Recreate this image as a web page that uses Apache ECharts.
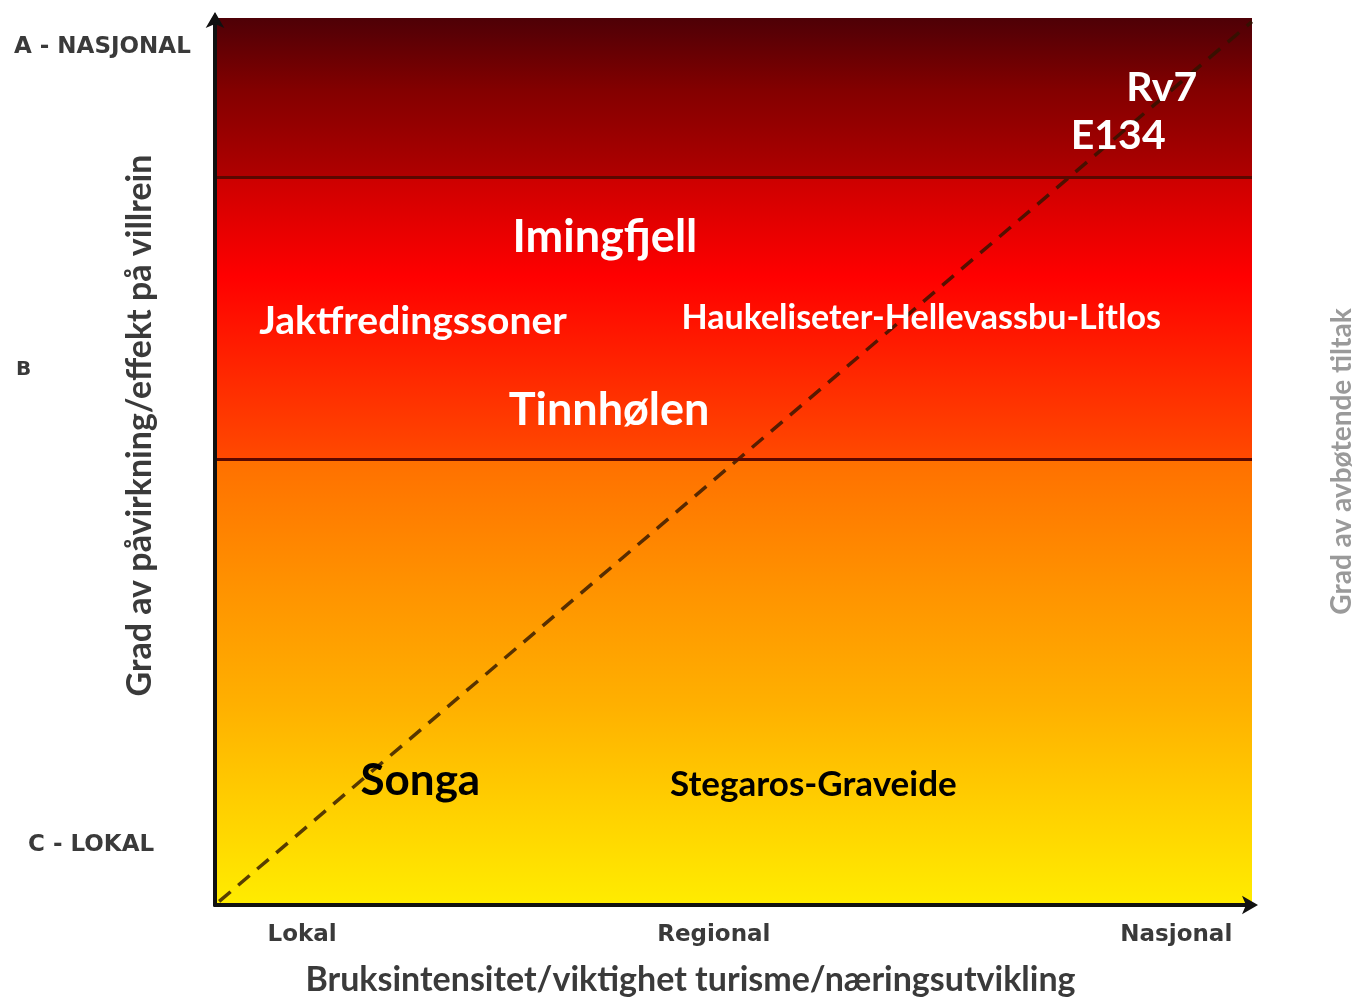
<!DOCTYPE html>
<html>
<head>
<meta charset="utf-8">
<script src="https://cdn.jsdelivr.net/npm/echarts@6/dist/echarts.min.js"></script>
<style>html,body{margin:0;padding:0;background:#fff;}#c{width:1356px;height:997px;}</style>
</head>
<body>
<div id="c"></div>
<script>
// ---- data ----
const xTickValues = [8.4, 48.1, 92.7];
const xTickLabels = ['Lokal', 'Regional', 'Nasjonal'];
const yTickValues = [6.8, 60.3, 96.7];
const yTickLabels = ['C - LOKAL', 'B', 'A - NASJONAL'];
const bandEdges = [0, 50.2, 82, 100];
const diagonal = [[0.4, 0.4], [100, 99.6]];
const pointNames = ['Rv7', 'E134', 'Imingfjell', 'Jaktfredingssoner', 'Haukeliseter-Hellevassbu-Litlos', 'Tinnhølen', 'Songa', 'Stegaros-Graveide'];
const pointX = [91.3, 87.1, 37.6, 19.1, 68.1, 38.0, 19.8, 57.7];
const pointY = [92.1, 86.7, 75.2, 65.8, 66.2, 55.7, 14.0, 13.6];
const xName = 'Bruksintensitet/viktighet turisme/næringsutvikling';
const yName = 'Grad av påvirkning/effekt på villrein';
const y2Name = 'Grad av avbøtende tiltak';

// ---- styles ----
const labelStyle = {
  'Rv7': {size: 41, color: '#fff'},
  'E134': {size: 41, color: '#fff'},
  'Imingfjell': {size: 45, color: '#fff'},
  'Jaktfredingssoner': {size: 39, color: '#fff'},
  'Haukeliseter-Hellevassbu-Litlos': {size: 34, color: '#fff'},
  'Tinnhølen': {size: 45, color: '#fff'},
  'Songa': {size: 44, color: '#000'},
  'Stegaros-Graveide': {size: 35, color: '#000'}
};
const G = echarts.graphic.LinearGradient;
const bandFills = [
  new G(0, 0, 0, 1, [
    {offset: 0, color: '#ff7000'}, {offset: 0.3, color: '#ff9400'},
    {offset: 0.55, color: '#ffb000'}, {offset: 0.8, color: '#ffd200'}, {offset: 1, color: '#ffec00'}]),
  new G(0, 0, 0, 1, [
    {offset: 0, color: '#cc0000'}, {offset: 0.35, color: '#ff0000'},
    {offset: 0.7, color: '#ff2800'}, {offset: 1, color: '#ff4a00'}]),
  new G(0, 0, 0, 1, [
    {offset: 0, color: '#4e0006'}, {offset: 0.45, color: '#830000'}, {offset: 1, color: '#b00000'}])
];

function nearestLabel(v, vals, labels) {
  let best = 0;
  for (let i = 1; i < vals.length; i++) if (Math.abs(vals[i] - v) < Math.abs(vals[best] - v)) best = i;
  return labels[best];
}

const chart = echarts.init(document.getElementById('c'));
const areas = [];
for (let i = 0; i < 3; i++) {
  areas.push([{xAxis: 0, yAxis: bandEdges[i], itemStyle: {color: bandFills[i]}}, {xAxis: 100, yAxis: bandEdges[i + 1]}]);
}
const yRichKey = {'A - NASJONAL': 'a', 'B': 'b', 'C - LOKAL': 'c'};
const tickFont = {color: '#3a3a3a', fontFamily: 'DejaVu Sans', fontWeight: 'bold', fontSize: 23};

chart.setOption({
  animation: false,
  backgroundColor: '#fff',
  grid: {left: 215, right: 104, top: 18, bottom: 92, outerBoundsMode: 'none', containLabel: false},
  xAxis: [{
    type: 'value', min: 0, max: 100, position: 'bottom', z: 5,
    axisLine: {show: true, lineStyle: {color: '#111', width: 4}, symbol: ['none', 'arrow'], symbolSize: [14, 16], symbolOffset: [0, 6]},
    axisTick: {show: false}, splitLine: {show: false},
    axisLabel: Object.assign({
      customValues: xTickValues, margin: 19,
      formatter: v => nearestLabel(v, xTickValues, xTickLabels)
    }, tickFont),
    name: xName, nameLocation: 'middle', nameGap: 58, nameMoveOverlap: false,
    nameTextStyle: {color: '#3a3a3a', fontFamily: 'Lato', fontWeight: 'bold', fontSize: 34, padding: [0, 86, 0, 0]}
  }, {
    type: 'value', min: 0, max: 100, position: 'top', z: 5,
    axisLine: {show: true, lineStyle: {color: '#111', width: 3}},
    axisTick: {show: false}, splitLine: {show: false}, axisLabel: {show: false}
  }],
  yAxis: [{
    type: 'value', min: 0, max: 100, position: 'left', z: 5,
    axisLine: {show: true, lineStyle: {color: '#111', width: 4}, symbol: ['none', 'arrow'], symbolSize: [14, 16], symbolOffset: [0, 6]},
    axisTick: {show: false}, splitLine: {show: false},
    axisLabel: {
      customValues: yTickValues, margin: 201, align: 'left',
      formatter: v => { const t = nearestLabel(v, yTickValues, yTickLabels); return '{' + yRichKey[t] + '|' + t + '}'; },
      rich: {
        a: Object.assign({}, tickFont),
        b: Object.assign({}, tickFont, {fontSize: 20, padding: [0, 0, 0, 2]}),
        c: Object.assign({}, tickFont, {padding: [0, 0, 0, 14]})
      }
    },
    name: yName, nameLocation: 'middle', nameGap: 58, nameRotate: 90, nameMoveOverlap: false,
    nameTextStyle: {color: '#3a3a3a', fontFamily: 'Lato', fontWeight: 'bold', fontSize: 34, padding: [0, 0, 0, 72]}
  }, {
    type: 'value', min: 0, max: 100, position: 'right', z: 5,
    axisLine: {show: true, lineStyle: {color: '#111', width: 3}, symbol: ['none', 'arrow'], symbolSize: [10, 12], symbolOffset: [0, 5]},
    axisTick: {show: false}, splitLine: {show: false}, axisLabel: {show: false},
    name: y2Name, nameLocation: 'middle', nameGap: 76, nameRotate: 90, nameMoveOverlap: false,
    nameTextStyle: {color: '#9a9a9a', fontFamily: 'Lato', fontWeight: 'bold', fontSize: 28}
  }],
  series: [{
    type: 'line', data: [], silent: true,
    markArea: {silent: true, data: areas}
  }, {
    type: 'line', data: diagonal, symbol: 'none', silent: true, z: 3,
    lineStyle: {color: 'rgba(45,20,0,0.8)', width: 3.5, type: [15, 10]},
    markLine: {
      silent: true, symbol: 'none', label: {show: false},
      lineStyle: {color: '#5a0800', width: 3, type: 'solid'},
      data: [{yAxis: bandEdges[1]}, {yAxis: bandEdges[2]}]
    }
  }, {
    type: 'scatter', symbolSize: 0, silent: true, z: 4,
    itemStyle: {opacity: 1, color: 'transparent'},
    data: pointNames.map((n, i) => ({name: n, value: [pointX[i], pointY[i]],
      label: {fontSize: labelStyle[n].size, color: labelStyle[n].color}})),
    label: {show: true, position: 'inside', opacity: 1, formatter: p => p.name, fontFamily: 'Lato', fontWeight: 'bold'}
  }]
});
</script>
</body>
</html>
